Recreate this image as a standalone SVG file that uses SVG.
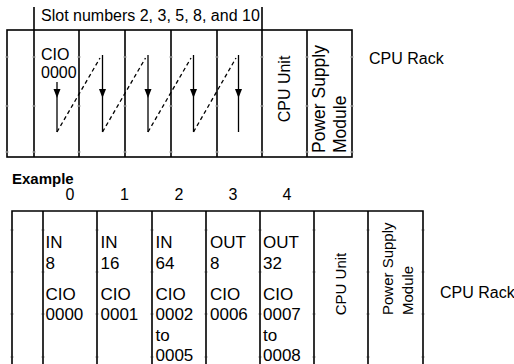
<svg xmlns="http://www.w3.org/2000/svg" width="514" height="364" viewBox="0 0 514 364">
<style>
text{font-family:"Liberation Sans",Arial,sans-serif;font-size:16px;fill:#000}
.b{font-weight:bold;font-size:15px}
.m{font-size:17px}
.p{font-size:17.5px}
.s{font-size:15px}
.r{fill:none;stroke:#000;stroke-width:1.6}
.a{stroke:#000;stroke-width:1.3;fill:none}
.d{stroke:#000;stroke-width:1.3;stroke-dasharray:4 3;fill:none}
.t{stroke:#bbb;stroke-width:1}
</style>
<defs>
<path id="ah" d="M-3.5,0 L3.5,0 L0,9 Z" fill="#000"/>
</defs>
<rect width="514" height="364" fill="#fff"/>

<g id="top-rack">
<rect class="r" x="7" y="30" width="345" height="127"/>
<path class="r" d="M34,7V157M79,30V157M125,30V157M171,30V157M217,30V157M262,7V157M307,30V157"/>
<text x="41" y="21">Slot numbers 2, 3, 5, 8, and 10</text>
</g>
<g id="top-slot0"><text x="41" y="60">CIO<tspan x="41" dy="17.5">0000</tspan></text></g>
<g id="top-cpu"><text transform="translate(290,89) rotate(-90)" text-anchor="middle">CPU Unit</text></g>
<g id="top-psu"><text class="p" transform="translate(325,153) rotate(-90)">Power Supply</text><text class="p" transform="translate(346,153) rotate(-90)">Module</text></g>
<g id="top-label"><text x="369" y="64">CPU Rack</text></g>

<g id="connectors">
<line class="a" x1="57" y1="82" x2="57" y2="132"/>
<line class="a" x1="102.5" y1="55" x2="102.5" y2="132"/>
<line class="a" x1="148" y1="55" x2="148" y2="132"/>
<line class="a" x1="193.5" y1="55" x2="193.5" y2="132"/>
<line class="a" x1="238.5" y1="55" x2="238.5" y2="132"/>
<use href="#ah" x="57" y="89"/>
<use href="#ah" x="102.5" y="89"/>
<use href="#ah" x="148" y="89"/>
<use href="#ah" x="193.5" y="89"/>
<use href="#ah" x="238.5" y="89"/>
<line class="d" x1="57" y1="132" x2="100" y2="58"/>
<line class="d" x1="102.5" y1="132" x2="145.5" y2="58"/>
<line class="d" x1="148" y1="132" x2="191" y2="58"/>
<line class="d" x1="193.5" y1="132" x2="236" y2="58"/>
</g>

<g id="ticks">
<path class="t" d="M5,57h4M32,57h4M77,57h4M123,57h4M169,57h4M215,57h4M260,57h4M305,57h4M350,57h4
M5,106h4M32,106h4M77,106h4M123,106h4M169,106h4M215,106h4M260,106h4M305,106h4M350,106h4
M5,152h4M32,152h4M77,152h4M123,152h4M169,152h4M215,152h4M260,152h4M305,152h4M350,152h4
M10,230h4M41,230h4M95,230h4M150,230h4M204,230h4M258,230h4M312,230h4M366,230h4M421,230h4
M10,272h4M41,272h4M95,272h4M150,272h4M204,272h4M258,272h4M312,272h4M366,272h4M421,272h4
M10,314h4M41,314h4M95,314h4M150,314h4M204,314h4M258,314h4M312,314h4M366,314h4M421,314h4
M10,357h4M41,357h4M95,357h4M150,357h4M204,357h4M258,357h4M312,357h4M366,357h4M421,357h4"/>
</g>

<g id="example">
<text class="b" x="12" y="184">Example</text>
<text x="70" y="200" text-anchor="middle">0</text>
<text x="124.5" y="200" text-anchor="middle">1</text>
<text x="179" y="200" text-anchor="middle">2</text>
<text x="233" y="200" text-anchor="middle">3</text>
<text x="287" y="200" text-anchor="middle">4</text>
</g>

<g id="bottom-rack">
<path class="r" d="M12,364V211H423V364M43,211V364M97,211V364M152,211V364M206,211V364M260,211V364M314,211V364M368,211V364"/>
</g>
<g id="slot0"><text class="m" x="45.5" y="248">IN<tspan x="45.5" dy="20.5">8</tspan></text><text class="m" x="45.5" y="299.5">CIO<tspan x="45.5" dy="20.5">0000</tspan></text></g>
<g id="slot1"><text class="m" x="100.5" y="248">IN<tspan x="100.5" dy="20.5">16</tspan></text><text class="m" x="100.5" y="299.5">CIO<tspan x="100.5" dy="20.5">0001</tspan></text></g>
<g id="slot2"><text class="m" x="155.5" y="248">IN<tspan x="155.5" dy="20.5">64</tspan></text><text class="m" x="155.5" y="299.5">CIO<tspan x="155.5" dy="20.5">0002</tspan><tspan x="155.5" dy="20.5">to</tspan><tspan x="155.5" dy="20.5">0005</tspan></text></g>
<g id="slot3"><text class="m" x="210" y="248">OUT<tspan x="210" dy="20.5">8</tspan></text><text class="m" x="210" y="299.5">CIO<tspan x="210" dy="20.5">0006</tspan></text></g>
<g id="slot4"><text class="m" x="263" y="248">OUT<tspan x="263" dy="20.5">32</tspan></text><text class="m" x="263" y="299.5">CIO<tspan x="263" dy="20.5">0007</tspan><tspan x="263" dy="20.5">to</tspan><tspan x="263" dy="20.5">0008</tspan></text></g>
<g id="bottom-cpu"><text class="s" transform="translate(346,284) rotate(-90)" text-anchor="middle">CPU Unit</text></g>
<g id="bottom-psu"><text class="s" transform="translate(393,315) rotate(-90)">Power Supply</text><text class="s" transform="translate(413,315) rotate(-90)">Module</text></g>
<g id="bottom-label"><text x="440" y="298">CPU Rack</text></g>
</svg>
